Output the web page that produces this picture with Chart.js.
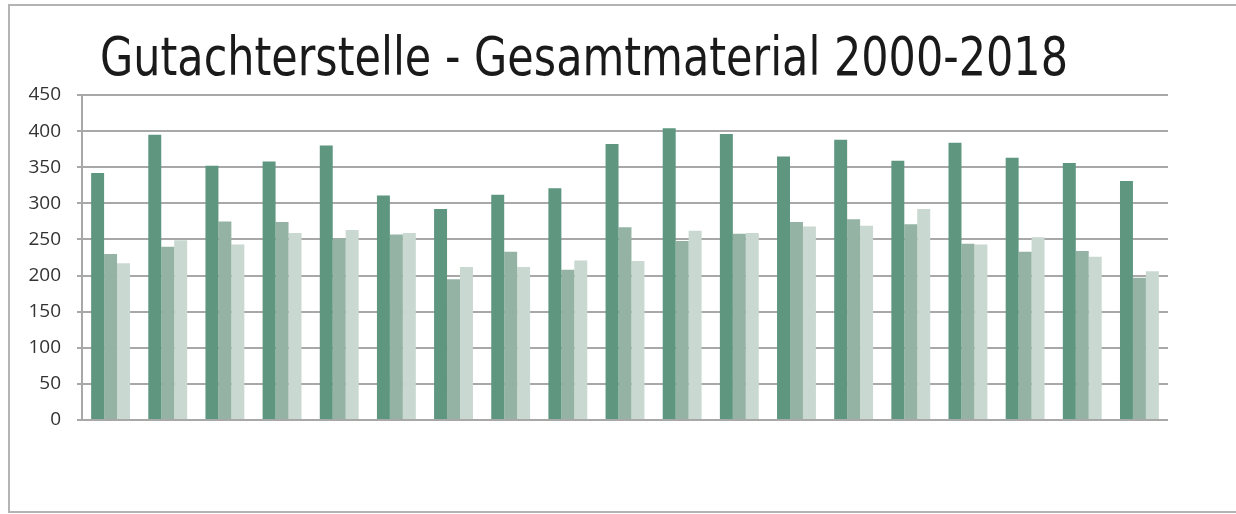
<!DOCTYPE html>
<html>
<head>
<meta charset="utf-8">
<script src="https://cdn.jsdelivr.net/npm/chart.js@4"></script>
<style>
  body { margin: 0; background: #fff; }
  #frame { position: absolute; left: 8px; top: 4px; width: 1250px; height: 505px; border: 2px solid #b4b4b4; }
  #wrap { position: absolute; left: 0; top: 0; width: 1236px; height: 514px; }
</style>
</head>
<body>
<div id="frame"></div>
<div id="wrap"><canvas id="myChart" width="1236" height="514"></canvas></div>
<script>
const years = ['2000', '2001', '2002', '2003', '2004', '2005', '2006', '2007', '2008', '2009',
               '2010', '2011', '2012', '2013', '2014', '2015', '2016', '2017', '2018'];
const series1 = [342, 395, 352, 358, 380, 311, 292, 312, 321, 382, 404, 396, 365, 388, 359, 384, 363, 356, 331];
const series2 = [230, 240, 275, 274, 251, 257, 195, 233, 208, 267, 248, 258, 274, 278, 271, 244, 233, 234, 197];
const series3 = [217, 249, 243, 259, 263, 259, 212, 212, 221, 220, 262, 259, 268, 269, 292, 243, 253, 226, 206];
const yTicks = [0, 50, 100, 150, 200, 250, 300, 350, 400, 450];
const titleText = 'Gutachterstelle - Gesamtmaterial 2000-2018';

// title drawn at a fixed spot, like the original
const titlePlugin = {
    id: 'bigTitle',
    afterDraw(chart) {
        const ctx = chart.ctx;
        ctx.save();
        ctx.font = '53px "DejaVu Sans Condensed", "Liberation Sans Narrow", sans-serif';
        ctx.fillStyle = '#1a1a1a';
        ctx.textBaseline = 'alphabetic';
        const w = ctx.measureText(titleText).width;
        ctx.translate(100, 75);
        ctx.scale(968 / w, 1);
        ctx.fillText(titleText, 0, 0);
        ctx.restore();
    }
};

function chartIt(){
    const ctx = document.getElementById('myChart').getContext('2d');
    const chart = new Chart(ctx, {
        type: 'bar',
        data: {
            labels: years,
            datasets: [
                { label: 'Serie 1', backgroundColor: '#5e9680', data: series1 },
                { label: 'Serie 2', backgroundColor: '#95b3a4', data: series2 },
                { label: 'Serie 3', backgroundColor: '#c9d8d0', data: series3 }
            ]
        },
        options: {
            responsive: false,
            animation: false,
            layout: { padding: { left: 20, right: 68, top: 95, bottom: 86 } },
            datasets: { bar: { barPercentage: 1, categoryPercentage: 0.68 } },
            plugins: { legend: { display: false }, title: { display: false }, tooltip: { enabled: false } },
            scales: {
                x: {
                    grid: { display: false },
                    border: { display: false },
                    ticks: { display: false }
                },
                y: {
                    min: 0,
                    max: 450,
                    afterBuildTicks: axis => { axis.ticks = yTicks.map(v => ({ value: v })); },
                    afterFit: axis => { axis.width = 62; },
                    grid: { color: '#a8a8a8', lineWidth: 2, tickLength: 5 },
                    border: { color: '#a8a8a8', width: 2 },
                    ticks: {
                        color: '#333',
                        padding: 16,
                        font: { family: '"Open Sans", sans-serif', size: 19 }
                    }
                }
            }
        },
        plugins: [titlePlugin]
    });
}
chartIt();
</script>
</body>
</html>
